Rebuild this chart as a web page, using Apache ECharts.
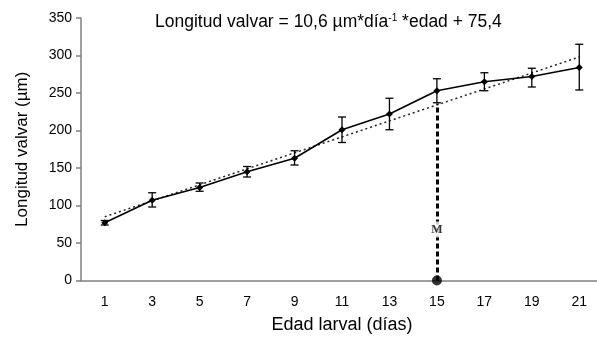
<!DOCTYPE html>
<html>
<head>
<meta charset="utf-8">
<script src="https://cdn.jsdelivr.net/npm/echarts@6/dist/echarts.min.js"></script>
<style>
  html, body { margin: 0; padding: 0; background: #fff; overflow: hidden; }
  /* plot runs off the right edge in the original, so the canvas is a bit wider than the window */
  #chart { width: 603px; height: 337px; }
</style>
</head>
<body>
<div id="chart"></div>
<script>
// larval age (days)
const days = ['1', '3', '5', '7', '9', '11', '13', '15', '17', '19', '21']
// mean shell length (µm) and error bar ends
const meanLength = [77, 107, 124, 145, 163, 201, 222, 253, 265, 272, 284]
const errLow = [74, 98, 119, 138, 154, 184, 201, 237, 253, 258, 254]
const errHigh = [80, 117, 130, 152, 173, 218, 243, 269, 277, 283, 315]
// regression line ends
const trendLine = [85, null, null, null, null, null, null, null, null, null, 298]
// metamorphosis mark
const markDay = '15'
const markTop = 236
const markLabelY = 68

const chart = echarts.init(document.getElementById('chart'))

const font = 'Liberation Sans, Arial, sans-serif'

chart.setOption({
  animation: false,
  title: {
    left: 150,
    top: 8,
    text: '{a|Longitud valvar = 10,6 µm*día}{s|-1}{a| *edad + 75,4}',
    textStyle: {
      fontWeight: 'normal',
      rich: {
        a: { fontFamily: font, fontSize: 17.5, color: '#000' },
        s: { fontFamily: font, fontSize: 10, color: '#000', padding: [0, 0, 9, 0] }
      }
    }
  },
  grid: { left: 81, right: 0, top: 18, bottom: 56.5, outerBoundsMode: 'none' },
  xAxis: {
    type: 'category',
    data: days,
    boundaryGap: true,
    name: 'Edad larval (días)',
    nameLocation: 'middle',
    nameGap: 36,
    nameTextStyle: { fontFamily: font, fontSize: 18, color: '#000' },
    axisLine: { lineStyle: { color: '#808080', width: 1.5 } },
    axisTick: { length: 5, lineStyle: { color: '#808080', width: 1.5 } },
    axisLabel: { fontFamily: font, fontSize: 14, color: '#000', margin: 15 }
  },
  yAxis: {
    type: 'value',
    min: 0,
    max: 350,
    interval: 50,
    name: 'Longitud valvar (µm)',
    nameLocation: 'middle',
    nameGap: 50,
    nameTextStyle: { fontFamily: font, fontSize: 17, color: '#000' },
    splitLine: { show: false },
    axisLine: { show: true, lineStyle: { color: '#808080', width: 1.5 } },
    axisTick: { show: true, length: 5, lineStyle: { color: '#808080', width: 1.5 } },
    axisLabel: { fontFamily: font, fontSize: 14, color: '#000', margin: 9 }
  },
  series: [
    {
      // dotted regression
      type: 'line',
      data: trendLine,
      connectNulls: true,
      symbol: 'none',
      lineStyle: { color: '#222', width: 1.5, type: [2, 3] },
      z: 2
    },
    {
      type: 'line',
      data: meanLength,
      symbol: 'diamond',
      symbolSize: 7,
      itemStyle: { color: '#000' },
      lineStyle: { color: '#000', width: 1.6 },
      z: 4,
      markLine: {
        silent: true,
        symbol: 'none',
        label: { show: false },
        lineStyle: { color: '#000', width: 3, type: [5, 3] },
        data: [[{ coord: [markDay, 0] }, { coord: [markDay, markTop] }]]
      }
    },
    {
      // error bars
      type: 'custom',
      data: days.map((d, i) => [i, errLow[i], errHigh[i]]),
      renderItem: function (params, api) {
        const lo = api.coord([api.value(0), api.value(1)])
        const hi = api.coord([api.value(0), api.value(2)])
        const w = 4
        const style = { stroke: '#000', lineWidth: 1.3 }
        return {
          type: 'group',
          children: [
            { type: 'line', shape: { x1: hi[0], y1: hi[1], x2: lo[0], y2: lo[1] }, style: style },
            { type: 'line', shape: { x1: hi[0] - w, y1: hi[1], x2: hi[0] + w, y2: hi[1] }, style: style },
            { type: 'line', shape: { x1: lo[0] - w, y1: lo[1], x2: lo[0] + w, y2: lo[1] }, style: style }
          ]
        }
      },
      z: 3
    },
    {
      // dot at the base and M label
      type: 'scatter',
      clip: false,
      data: [
        { value: [markDay, 0], symbolSize: 10 },
        {
          value: [markDay, markLabelY],
          symbolSize: 0,
          label: {
            show: true,
            position: 'inside',
            formatter: 'M',
            fontFamily: 'Liberation Serif, Times New Roman, serif',
            fontWeight: 'bold',
            fontSize: 12,
            color: '#000',
            backgroundColor: '#fff',
            padding: [2, 1]
          }
        }
      ],
      itemStyle: { color: '#000' },
      z: 6
    }
  ]
})
</script>
</body>
</html>
